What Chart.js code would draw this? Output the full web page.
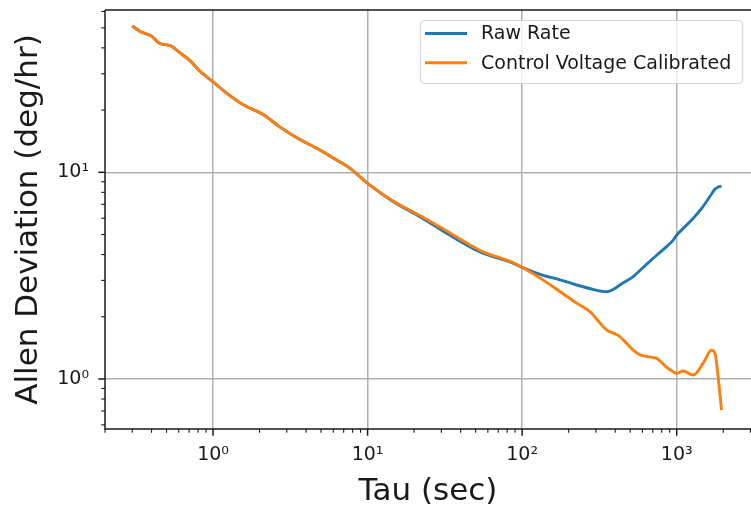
<!DOCTYPE html>
<html>
<head>
<meta charset="utf-8">
<script src="https://cdn.jsdelivr.net/npm/chart.js@4"></script>
<style>
  html, body { margin: 0; padding: 0; background: #ffffff; overflow: hidden; }
  #wrap { width: 751px; height: 508px; }
</style>
</head>
<body>
<div id="wrap"><canvas id="chart" width="751" height="508"></canvas></div>
<script>
// Averaging time (seconds)
const tau = [0.3, 0.34, 0.4, 0.45, 0.53, 0.61, 0.71, 0.82, 1.0, 1.23, 1.57, 2.1, 2.7, 3.65,
             4.7, 6.3, 7.7, 10, 14.7, 21.8, 32.5, 53, 88, 100, 137, 176, 225, 274, 352, 409,
             430, 523, 578, 705, 741, 860, 949, 1000, 1100, 1280, 1480, 1680, 1770, 1860, 1950];

// Allan deviation of the raw rate signal (deg/hr)
const rawRate = [51.0, 47.9, 45.6, 42.1, 41.0, 37.9, 34.7, 30.9, 27.4, 24.1, 21.2, 19.1, 16.6, 14.4,
                 13.07, 11.47, 10.45, 8.85, 7.21, 6.10, 5.07, 4.13, 3.63, 3.47, 3.17, 3.02, 2.85, 2.74, 2.645, 2.78,
                 2.86, 3.13, 3.35, 3.84, 3.97, 4.37, 4.70, 4.97, 5.35, 5.99, 6.82, 7.85, 8.30, 8.50, 8.58];

// Allan deviation after control-voltage calibration (deg/hr)
const controlVoltageCalibrated = [51.0, 47.9, 45.6, 42.1, 41.0, 37.9, 34.7, 30.9, 27.4, 24.1, 21.2, 19.1, 16.6, 14.4,
                 13.07, 11.47, 10.45, 8.85, 7.25, 6.18, 5.20, 4.20, 3.65, 3.47, 3.01, 2.645, 2.33, 2.12, 1.73, 1.64,
                 1.60, 1.38, 1.31, 1.27, 1.26, 1.14, 1.085, 1.065, 1.093, 1.045, 1.19, 1.38, 1.33, 1.00, 0.708];

const seriesLabels = ['Raw Rate', 'Control Voltage Calibrated'];
const seriesColors = ['#1f77b4', '#ff7f0e'];
const xTitle = 'Tau (sec)';
const yTitle = 'Allen Deviation (deg/hr)';
const xRange = [0.2, 3025];
const yRange = [0.573, 61];

const FONT = "'DejaVu Sans', 'Liberation Sans', sans-serif";
const INK = '#1a1a1a';

const SUP = { '-': '\u207B', '0': '\u2070', '1': '\u00B9', '2': '\u00B2', '3': '\u00B3',
              '4': '\u2074', '5': '\u2075', '6': '\u2076', '7': '\u2077', '8': '\u2078', '9': '\u2079' };
const toSup = n => String(n).split('').map(c => SUP[c]).join('');

const isDecade = v => {
  const e = Math.log10(v);
  return Math.abs(e - Math.round(e)) < 1e-7;
};
const decadeLabel = v => isDecade(v) ? '10' + toSup(Math.round(Math.log10(v))) : '';

// All 1..9 x 10^n tick positions inside a range
function logTicks(min, max) {
  const out = [];
  for (let e = Math.floor(Math.log10(min)); e <= Math.ceil(Math.log10(max)); e++) {
    for (let m = 1; m <= 9; m++) {
      const v = m * Math.pow(10, e);
      if (v >= min * 0.999 && v <= max * 1.001) out.push({ v, major: m === 1 });
    }
  }
  return out;
}

// Spines (left, bottom, top) and major/minor tick marks
const framePlugin = {
  id: 'frame',
  afterDatasetsDraw(chart) {
    const { ctx, chartArea: a, scales } = chart;
    ctx.save();
    ctx.strokeStyle = INK;
    for (const t of logTicks(xRange[0], xRange[1])) {
      const px = scales.x.getPixelForValue(t.v);
      if (px < a.left - 0.5 || px > a.right + 0.5) continue;
      ctx.lineWidth = t.major ? 1.5 : 1.1;
      ctx.beginPath();
      ctx.moveTo(px, a.bottom);
      ctx.lineTo(px, a.bottom + (t.major ? 6.7 : 3.8));
      ctx.stroke();
    }
    for (const t of logTicks(yRange[0], yRange[1])) {
      const py = scales.y.getPixelForValue(t.v);
      if (py < a.top - 0.5 || py > a.bottom + 0.5) continue;
      ctx.lineWidth = t.major ? 1.5 : 1.1;
      ctx.beginPath();
      ctx.moveTo(a.left, py);
      ctx.lineTo(a.left - (t.major ? 6.7 : 3.8), py);
      ctx.stroke();
    }
    ctx.lineWidth = 1.5;
    ctx.beginPath();
    ctx.moveTo(a.left, a.top);
    ctx.lineTo(a.left, a.bottom);
    ctx.lineTo(a.right + 2, a.bottom);
    ctx.moveTo(a.left, a.top);
    ctx.lineTo(a.right + 2, a.top);
    ctx.stroke();
    ctx.restore();
  }
};

// Framed legend in the upper-right corner of the plot area
const legendPlugin = {
  id: 'cornerLegend',
  afterDraw(chart) {
    const { ctx, chartArea: a } = chart;
    const boxRight = a.right - 9, boxLeft = a.right - 331, boxTop = a.top + 10, boxBottom = a.top + 73;
    ctx.save();
    ctx.beginPath();
    ctx.roundRect(boxLeft + 0.5, boxTop + 0.5, boxRight - boxLeft, boxBottom - boxTop, 4);
    ctx.fillStyle = 'rgba(255,255,255,0.8)';
    ctx.fill();
    ctx.strokeStyle = 'rgba(204,204,204,0.8)';
    ctx.lineWidth = 1.2;
    ctx.stroke();
    ctx.font = `19px ${FONT}`;
    ctx.textBaseline = 'middle';
    ctx.fillStyle = INK;
    chart.data.datasets.forEach((ds, i) => {
      const y = boxTop + 13.5 + i * 29.2;
      ctx.strokeStyle = ds.borderColor;
      ctx.lineWidth = 2.9;
      ctx.beginPath();
      ctx.moveTo(boxLeft + 5, y);
      ctx.lineTo(boxLeft + 47, y);
      ctx.stroke();
      ctx.fillText(ds.label, boxLeft + 61, y + 1);
    });
    ctx.restore();
  }
};

const gridColor = c => (c.tick && isDecade(c.tick.value)) ? '#b0b0b0' : 'rgba(0,0,0,0)';

new Chart(document.getElementById('chart'), {
  type: 'line',
  data: {
    datasets: [
      {
        label: seriesLabels[0],
        data: tau.map((t, i) => ({ x: t, y: rawRate[i] })),
        borderColor: seriesColors[0],
        borderWidth: 2.9,
        pointRadius: 0,
        fill: false,
        cubicInterpolationMode: 'monotone',
        order: 1
      },
      {
        label: seriesLabels[1],
        data: tau.map((t, i) => ({ x: t, y: controlVoltageCalibrated[i] })),
        borderColor: seriesColors[1],
        borderWidth: 2.9,
        pointRadius: 0,
        fill: false,
        cubicInterpolationMode: 'monotone',
        order: 0
      }
    ]
  },
  options: {
    responsive: false,
    animation: false,
    devicePixelRatio: 1,
    layout: { padding: { top: 10, right: 0, bottom: 0, left: 0 } },
    plugins: { legend: { display: false }, tooltip: { enabled: false } },
    scales: {
      x: {
        type: 'logarithmic',
        position: 'bottom',
        min: xRange[0],
        max: xRange[1],
        afterFit(s) { s.height = 79; s.paddingLeft = 0; s.paddingRight = 0; },
        border: { display: false },
        grid: { color: gridColor, lineWidth: 1.5, drawTicks: false },
        ticks: {
          autoSkip: false, maxRotation: 0, minRotation: 0, padding: 15,
          color: INK, font: { family: FONT, size: 19 },
          callback: v => decadeLabel(v)
        },
        title: {
          display: true, text: xTitle, color: INK,
          font: { family: FONT, size: 31, lineHeight: 1.05 }, padding: { top: 0, bottom: 0 }
        }
      },
      y: {
        type: 'logarithmic',
        position: 'left',
        min: yRange[0],
        max: yRange[1],
        afterFit(s) { s.width = 105; s.paddingTop = 0; s.paddingBottom = 0; },
        border: { display: false },
        grid: { color: gridColor, lineWidth: 1.5, drawTicks: false },
        ticks: {
          autoSkip: false, padding: 16,
          color: INK, font: { family: FONT, size: 19 },
          callback: v => decadeLabel(v)
        },
        title: {
          display: true, text: yTitle, color: INK,
          font: { family: FONT, size: 31 }, padding: { top: 10, bottom: 0 }
        }
      }
    }
  },
  plugins: [framePlugin, legendPlugin]
});
</script>
</body>
</html>
